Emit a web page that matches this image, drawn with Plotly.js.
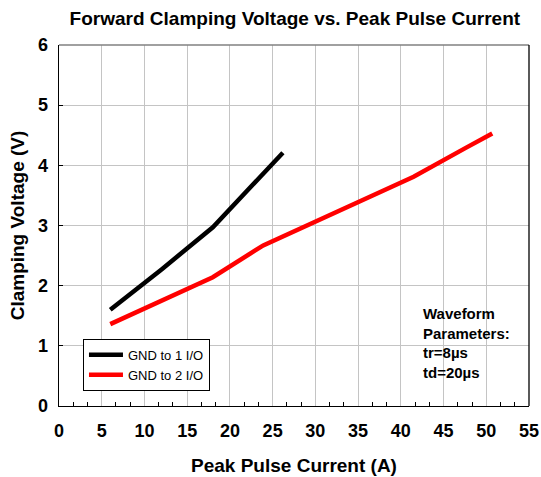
<!DOCTYPE html>
<html>
<head>
<meta charset="utf-8">
<script src="https://cdn.plot.ly/plotly-3.0.1.min.js"></script>
<style>
html,body{margin:0;padding:0;background:#fff;}
#chart{width:541px;height:477px;}
</style>
</head>
<body>
<div id="chart"></div>
<script>
// Data
const current1 = [6, 12, 18, 24, 26.2];
const voltage1 = [1.60, 2.27, 2.97, 3.86, 4.21];
const current2 = [6, 12, 18, 23.9, 30, 36, 41.5, 47.6, 50.7];
const voltage2 = [1.36, 1.74, 2.14, 2.67, 3.06, 3.45, 3.81, 4.29, 4.53];
const seriesNames = ["GND to 1 I/O", "GND to 2 I/O"];
const xTicks = [0, 5, 10, 15, 20, 25, 30, 35, 40, 45, 50, 55];
const xMinorTicks = [1.667, 3.333, 6.667, 8.333, 11.667, 13.333, 16.667, 18.333, 21.667, 23.333,
  26.667, 28.333, 31.667, 33.333, 36.667, 38.333, 41.667, 43.333, 46.667, 48.333, 51.667, 53.333];
const yTicks = [0, 1, 2, 3, 4, 5, 6];

const FONT = "Liberation Sans, Arial, sans-serif";

const traces = [
  {x: current1, y: voltage1, name: seriesNames[0], type: "scatter", mode: "lines",
   line: {color: "#000000", width: 4.5}},
  {x: current2, y: voltage2, name: seriesNames[1], type: "scatter", mode: "lines",
   line: {color: "#ff0000", width: 4.5}},
  // invisible helper trace on the overlay axis that carries the minor ticks
  {x: [0, 55], y: [0, 0], xaxis: "x2", yaxis: "y", type: "scatter", mode: "none",
   showlegend: false, hoverinfo: "skip"}
];

const layout = {
  width: 541, height: 477,
  margin: {l: 59, r: 12, t: 45, b: 71},
  paper_bgcolor: "#ffffff", plot_bgcolor: "#ffffff",
  font: {family: FONT, color: "#000"},
  title: {text: "<b>Forward Clamping Voltage vs. Peak Pulse Current</b>",
          font: {family: FONT, size: 19, color: "#000"},
          x: 0.545, xanchor: "center", y: 0.962, yanchor: "middle"},
  xaxis: {
    range: [0, 55], tickvals: xTicks, ticktext: xTicks.map(v => "<b>" + v + "</b>"),
    showgrid: true, gridcolor: "#c4c4c4", gridwidth: 1,
    showline: true, linecolor: "#000", linewidth: 1.3,
    ticks: "", zeroline: false,
    tickfont: {family: FONT, size: 18, color: "#000"},
    ticklabelstandoff: 8,
    title: {text: "<b>Peak Pulse Current (A)</b>", font: {family: FONT, size: 19, color: "#000"}, standoff: 18},
    fixedrange: true
  },
  xaxis2: {
    overlaying: "x", side: "bottom", anchor: "y",
    range: [0, 55], tickvals: xMinorTicks, showticklabels: false,
    ticks: "inside", ticklen: 4, tickcolor: "#000", tickwidth: 1,
    showgrid: false, zeroline: false, showline: false, fixedrange: true
  },
  yaxis: {
    range: [0, 6], tickvals: yTicks, ticktext: yTicks.map(v => "<b>" + v + "</b>"),
    showgrid: true, gridcolor: "#c4c4c4", gridwidth: 1,
    showline: true, linecolor: "#000", linewidth: 1.3,
    ticks: "inside", ticklen: 4, tickcolor: "#000", tickwidth: 1,
    zeroline: false,
    tickfont: {family: FONT, size: 18, color: "#000"},
    ticklabelstandoff: 6,
    title: {text: "<b>Clamping Voltage (V)</b>", font: {family: FONT, size: 19, color: "#000"}, standoff: 8},
    fixedrange: true
  },
  showlegend: true,
  legend: {
    x: 0.051, y: 0.042, xanchor: "left", yanchor: "bottom",
    bgcolor: "#ffffff", bordercolor: "#000", borderwidth: 1,
    font: {family: FONT, size: 13, color: "#000"},
    tracegroupgap: 0, itemwidth: 34
  },
  shapes: [
    {type: "line", xref: "paper", yref: "paper", x0: 0, x1: 1, y0: 1, y1: 1,
     line: {color: "#808080", width: 1.3}},
    {type: "line", xref: "paper", yref: "paper", x0: 1, x1: 1, y0: 0, y1: 1,
     line: {color: "#000000", width: 1.3}}
  ],
  annotations: [
    {xref: "paper", yref: "paper", x: 0.77, y: 0.285, xanchor: "left", yanchor: "top",
     align: "left", showarrow: false,
     text: "<b>Waveform<br>Parameters:<br>tr=8µs<br>td=20µs</b>",
     font: {family: FONT, size: 15, color: "#000"}}
  ]
};

Plotly.newPlot("chart", traces, layout, {displayModeBar: false, staticPlot: true});
</script>
</body>
</html>
